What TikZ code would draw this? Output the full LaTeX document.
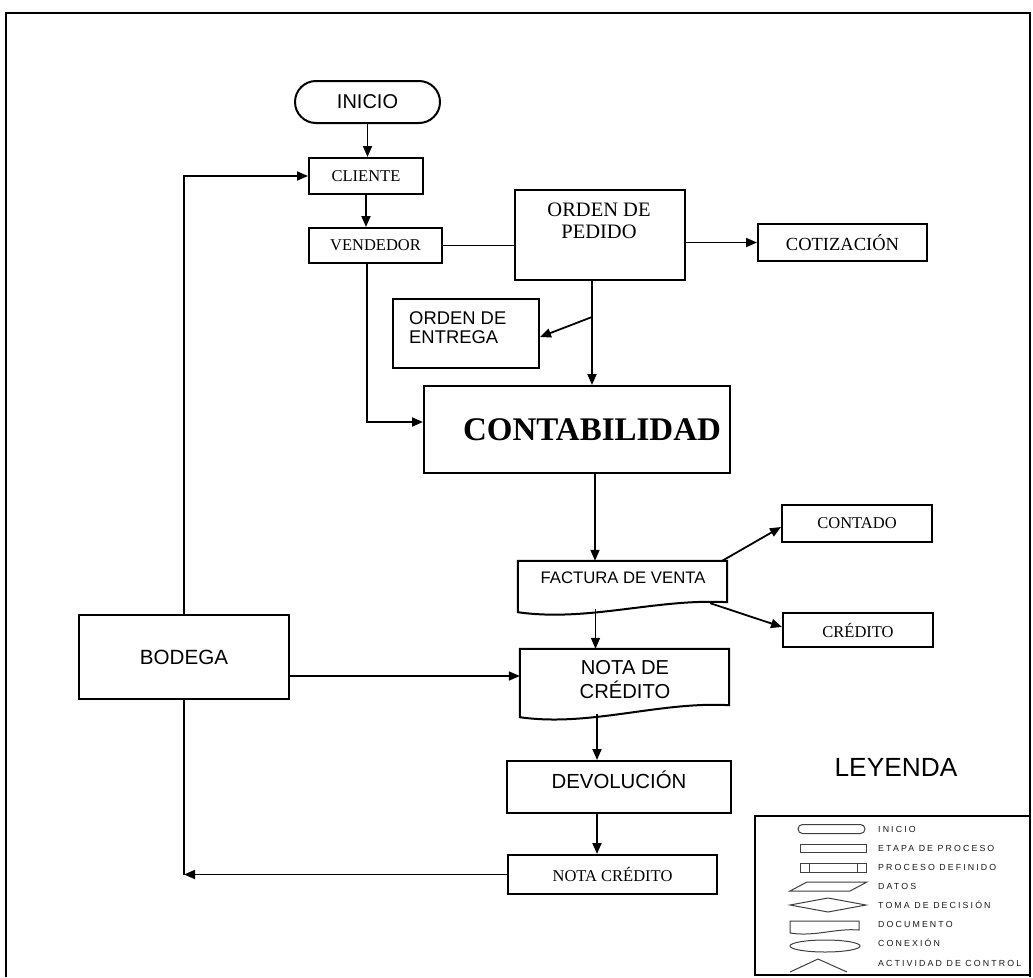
\documentclass[tikz,border=0pt]{standalone}
\usepackage{fontspec}
\setmainfont{Liberation Serif}
\setsansfont{Liberation Sans}
\newfontfamily\legfont[LetterSpace=24]{Liberation Sans}
\usetikzlibrary{arrows.meta,calc}

\begin{document}
\begin{tikzpicture}[x=1pt,y=-1pt,
  box/.style={draw, line width=2pt, inner sep=0pt},
  doc/.style={inner sep=0pt},
  lbl/.style={inner sep=0pt},
  conn/.style={line width=1.8pt, -{Triangle[length=11pt,width=9pt]}},
  plain/.style={line width=1.8pt},
  ser/.style={font=\fontsize{16.5}{18}\selectfont},
  sans/.style={font=\sffamily\fontsize{#1}{#1}\selectfont},
  lg/.style={line width=1pt, draw=black!75},
  lgt/.style={anchor=west, inner sep=0pt, text=black!90, font=\legfont\fontsize{8.8}{9}\selectfont}
]
\useasboundingbox (0,0) rectangle (1033,977);
\fill[white] (0,0) rectangle (1033,977);

% frame
\draw[line width=1.6pt] (6,977) -- (6,13) -- (1030,13) -- (1030,977);

% nodes
\node[box, rounded corners=21pt, minimum width=145pt, minimum height=42pt, sans=20] (inicio) at (367.5,102) {INICIO};
\node[box, minimum width=114pt, minimum height=36pt, ser] (cliente) at (366,176) {CLIENTE};
\node[box, minimum width=133pt, minimum height=35pt, ser] (vend) at (375.5,245.5) {VENDEDOR};
\node[box, minimum width=170pt, minimum height=90pt] (orden) at (600,235) {};
\node[lbl, align=center, font=\fontsize{20.5}{22}\selectfont] (ordentxt) at (599,221) {ORDEN DE\\PEDIDO};
\node[box, minimum width=169pt, minimum height=37pt, font=\fontsize{18.5}{20}\selectfont] (cotiz) at (842.5,242.5) {COTIZACIÓN};
\node[box, minimum width=146pt, minimum height=69pt] (entrega) at (466,333.5) {};
\node[lbl, anchor=west, align=left, font=\sffamily\fontsize{18.4}{19}\selectfont] (entregatxt) at (409,328) {ORDEN DE\\ENTREGA};
\node[box, minimum width=306pt, minimum height=87pt] (conta) at (577,429.5) {};
\node[lbl, font=\bfseries\fontsize{33}{34}\selectfont] (contatxt) at (592,430) {CONTABILIDAD};
\node[doc, minimum width=209pt, minimum height=51pt] (fac) at (622.5,586.5) {};
\node[lbl, sans=16.7] (factxt) at (623,578) {FACTURA DE VENTA};
\node[box, minimum width=150pt, minimum height=37pt, ser] (contado) at (857,523.5) {CONTADO};
\node[box, minimum width=150pt, minimum height=34pt, ser] (credito) at (858,630) {CRÉDITO};
\node[doc, minimum width=209pt, minimum height=68pt] (ndc) at (624.5,683) {};
\node[lbl, align=center, font=\sffamily\fontsize{20.2}{24}\selectfont] (ndctxt) at (625,680) {NOTA DE\\CRÉDITO};
\node[box, minimum width=210pt, minimum height=84pt, sans=20.6] (bodega) at (184,657) {BODEGA};
\node[box, minimum width=224pt, minimum height=52pt] (devol) at (619,787) {};
\node[lbl, sans=20.4] (devoltxt) at (619,780) {DEVOLUCIÓN};
\node[box, minimum width=209pt, minimum height=39pt, ser] (notacr) at (612.5,874.5) {NOTA CRÉDITO};
\node[lbl, sans=26.3] (leyenda) at (896,767) {LEYENDA};

% document outlines
\draw[line width=2pt] (fac.south west) -- (fac.north west) -- (fac.north east) -- ($(fac.south east)+(0,-10)$)
  .. controls ($(fac.south east)+(-70,-14)$) and ($(fac.south west)+(70,10)$) .. (fac.south west) -- cycle;
\draw[line width=2pt] (ndc.south west) -- (ndc.north west) -- (ndc.north east) -- ($(ndc.south east)+(0,-12)$)
  .. controls ($(ndc.south east)+(-70,-16)$) and ($(ndc.south west)+(70,10)$) .. (ndc.south west) -- cycle;

% connectors
\draw[conn] (inicio.south) -- (inicio.south |- cliente.north);
\draw[conn] (cliente.south) -- (cliente.south |- vend.north);
\draw[plain] (vend.east) -- (vend.east -| orden.west);
\draw[conn] (cotiz.west -| orden.east) -- (cotiz.west);
\coordinate (ob) at ($(orden.south)+(-8,0)$);
\draw[conn] (ob) -- (ob |- conta.north);
\coordinate (br) at ($(ob)+(0,36)$);
\draw[conn] (br) -- ($(entrega.east)+(0,3.5)$);
\coordinate (vb) at ($(vend.south)+(-8.5,0)$);
\draw[conn] (vb) |- ($(conta.west)+(0,-7.5)$);
\coordinate (cb) at ($(conta.south)+(18,0)$);
\draw[conn] (cb) -- (cb |- fac.north);
\draw[conn] ($(fac.north east)+(-5,0)$) -- ($(contado.west)+(0,3.5)$);
\draw[conn] ($(fac.south east)+(-17,-9)$) -- ($(credito.west)+(0,-3)$);
\coordinate (fb) at ($(fac.south)+(-27,-3)$);
\draw[conn] (fb) -- (fb |- ndc.north);
\coordinate (bc) at ($(bodega.east)+(0,19)$);
\draw[conn] (bc) -- (bc -| ndc.west);
\draw[conn] (bodega.north) |- (cliente.west);
\coordinate (nb) at ($(ndc.south)+(-27.5,-3)$);
\draw[conn] (nb) -- (nb |- devol.north);
\coordinate (db) at ($(devol.south)+(-22,0)$);
\draw[conn] (db) -- (db |- notacr.north);
\coordinate (nl) at (bodega.south |- notacr.west);
\draw[plain] (bodega.south) -- (nl);
\draw[conn] (notacr.west) -- (nl);

% legend
\node[draw, line width=1.6pt, minimum width=275pt, minimum height=159pt, inner sep=0pt] (legbox) at (892.5,895.5) {};
\draw[lg, rounded corners=4.5pt] (798,824.5) rectangle (865,833.5);
\draw[lg] (800,844.5) rectangle (866,852.5);
\draw[lg] (800,863) rectangle (866,872);
\draw[lg] (809,863) -- (809,872);
\draw[lg] (857,863) -- (857,872);
\draw[lg] (790,891) -- (850,891) -- (867,882) -- (807,882) -- cycle;
\draw[lg] (790,905) -- (828,898) -- (866,905) -- (828,912) -- cycle;
\draw[lg] (790,933) -- (790,921) -- (859,921) -- (859,930) .. controls (835,928) and (815,937) .. (790,933);
\draw[lg] (825,946) ellipse [x radius=35, y radius=6];
\draw[lg] (790,972) -- (818,959) -- (847,972);
\node[lgt] (l1) at (878,829) {INICIO};
\node[lgt] (l2) at (878,848) {ETAPA DE PROCESO};
\node[lgt] (l3) at (878,867) {PROCESO DEFINIDO};
\node[lgt] (l4) at (878,886) {DATOS};
\node[lgt] (l5) at (878,905) {TOMA DE DECISIÓN};
\node[lgt] (l6) at (878,924) {DOCUMENTO};
\node[lgt] (l7) at (878,943) {CONEXIÓN};
\node[lgt] (l8) at (878,963) {ACTIVIDAD DE CONTROL};
\end{tikzpicture}
\end{document}
